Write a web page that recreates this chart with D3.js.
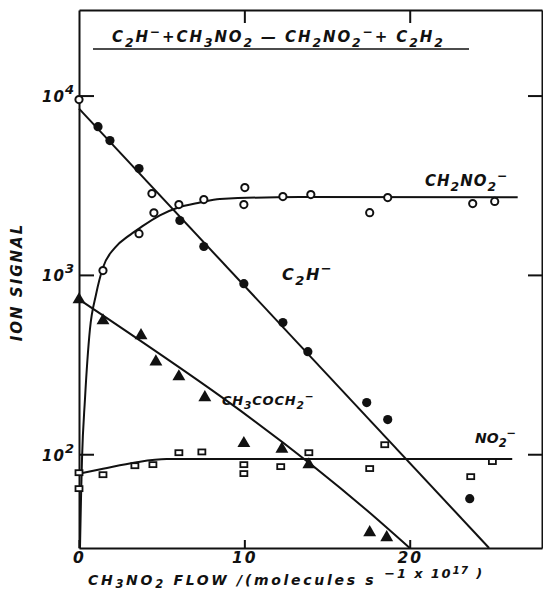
<!DOCTYPE html>
<html><head><meta charset="utf-8">
<script src="https://cdn.jsdelivr.net/npm/d3@7"></script>
<style>
body{margin:0;background:#fff}
svg{display:block}
text{font-family:"DejaVu Sans",sans-serif;font-style:italic;font-weight:bold;fill:#111}
</style>
</head><body>
<svg id="chart" width="543" height="591"></svg>
<script>
// CH3NO2 flow in units of 1e17 molecules/s, ion signal in counts
const c2hFlow   = [1.15, 1.87, 3.63, 6.10, 7.55, 9.97, 12.33, 13.84, 17.40, 18.67, 23.63];
const c2hSignal = [6710, 5610, 3920, 2010, 1440, 893, 542, 373, 194, 156, 56.5];
const c2hStartFlow   = [0];
const c2hStartSignal = [9500];

const ch2no2Flow   = [1.45, 3.63, 4.41, 4.53, 6.04, 7.55, 10.03, 9.97, 12.33, 14.02, 17.58, 18.67, 23.81, 25.14];
const ch2no2Signal = [1057, 1698, 2840, 2220, 2466, 2630, 3070, 2466, 2735, 2805, 2222, 2700, 2500, 2570];

const acetonylFlow   = [0, 1.45, 3.75, 4.65, 6.04, 7.61, 9.97, 12.27, 13.90, 17.58, 18.61];
const acetonylSignal = [728, 556, 459, 328, 271, 207, 115, 107, 87.5, 36.6, 34.3];

const no2Flow   = [0, 0, 1.45, 3.38, 4.47, 6.04, 7.43, 9.97, 9.97, 12.2, 13.9, 17.58, 18.49, 23.69, 25.0];
const no2Signal = [78.9, 64.3, 76.9, 86.3, 87.5, 102, 103, 87.5, 78, 85.3, 102, 83.2, 113, 75, 91];

// hand-drawn fit curves (knots)
const c2hFitFlow   = [0, 24.8];
const c2hFitSignal = [8460, 30];
const ch2no2FitFlow   = [0.06, 0.12, 0.18, 0.36, 0.66, 1.03, 1.45, 2.18, 3.0, 3.69, 4.89, 5.92, 7.31, 8.52, 13.35, 26.53];
const ch2no2FitSignal = [30, 56, 93, 202, 496, 777, 1099, 1420, 1650, 1830, 2150, 2360, 2530, 2650, 2720, 2710];
const acetonylFitFlow   = [0, 17.6, 20.0];
const acetonylFitSignal = [730, 47, 30];
const no2FitFlow   = [0, 1.45, 3.4, 5.3, 26.2];
const no2FitSignal = [78, 83, 90, 94, 94];

// axes
const xTicks = [0, 10, 20];
const yTicks = [100, 1000, 10000];
const yTickBase = ["10", "10", "10"];
const yTickExp  = ["2", "3", "4"];

const svg = d3.select("#chart");
const L = 79, R = 542, T = 10, B = 548;
const x = d3.scaleLinear().domain([0, 28]).range([L, R]);
const y = d3.scaleLog().domain([30, 30000]).range([B, T]);

// formula markup: _c subscript, ^c superscript
function formula(sel, str, size, subShift = 0.32) {
  let shift = 0;
  const parts = [];
  for (let i = 0; i < str.length; i++) {
    const ch = str[i];
    if ((ch === "_" || ch === "^") && i + 1 < str.length) {
      parts.push({t: str[i + 1], mode: ch});
      i++;
    } else {
      const last = parts[parts.length - 1];
      if (last && last.mode === "n") last.t += ch; else parts.push({t: ch, mode: "n"});
    }
  }
  parts.forEach(p => {
    const target = p.mode === "_" ? subShift * size : p.mode === "^" ? -0.42 * size : 0;
    const ts = sel.append("tspan").text(p.t === "-" && p.mode === "^" ? "\u2212" : p.t)
      .attr("dy", target - shift);
    if (p.mode !== "n") ts.attr("font-size", size * 0.82);
    shift = target;
  });
  return sel;
}

// frame and ticks
const g = svg.append("g");
const axisStyle = s => s.attr("stroke", "#111").attr("stroke-width", 2);

const axBottom = g.append("g").attr("transform", `translate(0,${B})`)
  .call(d3.axisBottom(x).tickValues(xTicks).tickSizeInner(-8).tickSizeOuter(0).tickPadding(4).tickFormat(d3.format("d")));
const axTop = g.append("g").attr("transform", `translate(0,${T})`)
  .call(d3.axisTop(x).tickValues(xTicks.slice(1)).tickSizeInner(-13).tickSizeOuter(0).tickFormat(""));
const axLeft = g.append("g").attr("transform", `translate(${L},0)`)
  .call(d3.axisLeft(y).tickValues(yTicks).tickSizeInner(-15).tickSizeOuter(0).tickPadding(5).tickFormat(""));
const axRight = g.append("g").attr("transform", `translate(${R},0)`)
  .call(d3.axisRight(y).tickValues(yTicks).tickSizeInner(-14).tickSizeOuter(0).tickFormat(""));

[axBottom, axTop, axLeft, axRight].forEach(a => {
  a.select(".domain").call(axisStyle);
  a.selectAll(".tick line").call(axisStyle);
});
axBottom.selectAll(".tick text").attr("font-size", 15.5).attr("fill", "#111")
  .attr("letter-spacing", 2)
  .attr("font-family", "DejaVu Sans").attr("font-style", "italic").attr("font-weight", "bold");

axLeft.selectAll(".tick").each(function(d, i) {
  const t = d3.select(this).append("text")
    .attr("x", -4).attr("y", 6).attr("text-anchor", "end").attr("font-size", 15).attr("letter-spacing", 1);
  t.append("tspan").text(yTickBase[i]);
  t.append("tspan").text(yTickExp[i]).attr("font-size", 13).attr("dy", -8);
});

// fit lines
const line = d3.line().x(d => x(d[0])).y(d => y(d[1]));
const curve = d3.line().x(d => x(d[0])).y(d => y(d[1])).curve(d3.curveMonotoneX);
const lines = svg.append("g").attr("fill", "none").attr("stroke", "#111").attr("stroke-width", 2);
lines.append("path").attr("d", line(d3.zip(c2hFitFlow, c2hFitSignal)));
lines.append("path").attr("d", curve(d3.zip(ch2no2FitFlow, ch2no2FitSignal)));
lines.append("path").attr("d", curve(d3.zip(acetonylFitFlow, acetonylFitSignal)));
lines.append("path").attr("d", curve(d3.zip(no2FitFlow, no2FitSignal)));

// markers
const m = svg.append("g");
m.selectAll(".sq").data(d3.zip(no2Flow, no2Signal)).join("rect")
  .attr("x", d => x(d[0]) - 3.5).attr("y", d => y(d[1]) - 2.5)
  .attr("width", 7).attr("height", 5)
  .attr("fill", "#fff").attr("stroke", "#111").attr("stroke-width", 1.8);
m.selectAll(".tri").data(d3.zip(acetonylFlow, acetonylSignal)).join("path")
  .attr("transform", d => `translate(${x(d[0])},${y(d[1])})`)
  .attr("d", d3.symbol(d3.symbolTriangle, 72)).attr("fill", "#111");
m.selectAll(".oc").data(d3.zip(ch2no2Flow.concat(c2hStartFlow), ch2no2Signal.concat(c2hStartSignal))).join("circle")
  .attr("cx", d => x(d[0])).attr("cy", d => y(d[1])).attr("r", 3.6)
  .attr("fill", "#fff").attr("stroke", "#111").attr("stroke-width", 2);
m.selectAll(".fc").data(d3.zip(c2hFlow, c2hSignal)).join("circle")
  .attr("cx", d => x(d[0])).attr("cy", d => y(d[1])).attr("r", 4.6).attr("fill", "#111");

// reaction header
formula(svg.append("text").attr("x", 112).attr("y", 42).attr("font-size", 15).attr("letter-spacing", 1.9),
  "C_2H^-+CH_3NO_2 \u2014 CH_2NO_2^-+ C_2H_2", 15);
svg.append("line").attr("x1", 93).attr("x2", 469).attr("y1", 49).attr("y2", 49)
  .attr("stroke", "#111").attr("stroke-width", 1.6);

// series labels
formula(svg.append("text").attr("x", 425).attr("y", 186).attr("font-size", 15).attr("letter-spacing", 1), "CH_2NO_2^-", 15);
formula(svg.append("text").attr("x", 282).attr("y", 280).attr("font-size", 16).attr("letter-spacing", 1.5), "C_2H^-", 16);
formula(svg.append("text").attr("x", 222).attr("y", 405).attr("font-size", 13).attr("letter-spacing", 0.8), "CH_3COCH_2^-", 13);
formula(svg.append("text").attr("x", 475).attr("y", 443).attr("font-size", 14), "NO_2^-", 14);

// axis titles
svg.append("text").attr("transform", "translate(22,282) rotate(-90)")
  .attr("text-anchor", "middle").attr("font-size", 15).attr("letter-spacing", 2).text("ION  SIGNAL");
const xt = svg.append("text").attr("x", 88).attr("y", 585).attr("font-size", 14).attr("letter-spacing", 2.7);
formula(xt, "CH_3NO_2 FLOW /(molecules s", 14, 0.2);
xt.append("tspan").attr("dx", 8).attr("dy", -7).attr("font-size", 13).attr("letter-spacing", 1.8).text("\u22121 x 10");
xt.append("tspan").attr("dy", -4).attr("font-size", 10.5).attr("letter-spacing", 1).text("17");
xt.append("tspan").attr("dy", 4).attr("font-size", 13).text(" )");
</script>
</body></html>
